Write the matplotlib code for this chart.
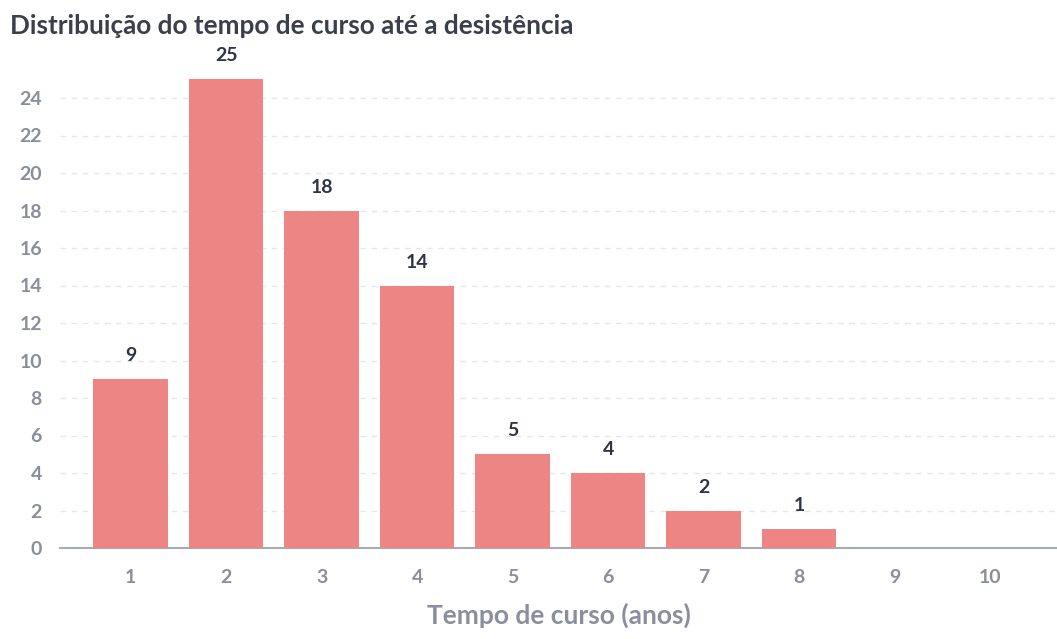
import matplotlib.pyplot as plt

anos = [1, 2, 3, 4, 5, 6, 7, 8, 9, 10]
desistencias = [9, 25, 18, 14, 5, 4, 2, 1, 0, 0]
yticks = list(range(0, 25, 2))

plt.rcParams['font.family'] = ['Lato', 'DejaVu Sans']

fig = plt.figure(figsize=(10.57, 6.39), dpi=100)
ax = fig.add_axes([60 / 1057, 91 / 639, 997 / 1057, 468.75 / 639])

bars = ax.bar(anos, desistencias, width=0.78, color='#ee8585', zorder=3)
for b, v in zip(bars, desistencias):
    if v > 0:
        ax.text(b.get_x() + b.get_width() / 2, v + 1.25, str(v), ha='center', va='center',
                fontsize=14, fontweight='bold', color='#2f3344', clip_on=False)

ax.set_xlim(0.26, 10.7)
ax.set_ylim(0, 25)
ax.set_xticks(anos)
ax.set_yticks(yticks)
ax.tick_params(axis='both', length=0, labelsize=14, labelcolor='#8a8e9b')
ax.tick_params(axis='y', pad=13)
ax.tick_params(axis='x', pad=15)
for lbl in ax.get_xticklabels() + ax.get_yticklabels():
    lbl.set_fontweight('bold')

ax.yaxis.grid(True, linestyle=(0, (4, 4)), color='#e6e7ea', linewidth=1, zorder=0)
ax.set_axisbelow(True)
for s in ['top', 'right', 'left']:
    ax.spines[s].set_visible(False)
ax.spines['bottom'].set_color('#a7abb5')
ax.spines['bottom'].set_linewidth(1.5)

ax.set_xlabel('Tempo de curso (anos)', fontsize=19, fontweight='bold', color='#8b8f9d', labelpad=12)
fig.text(10 / 1057, 1 - 26 / 639, 'Distribuição do tempo de curso até a desistência',
         fontsize=18.8, fontweight='bold', color='#3b3f4b', va='center', ha='left')

fig.savefig('out.png', dpi=100, facecolor='white')
